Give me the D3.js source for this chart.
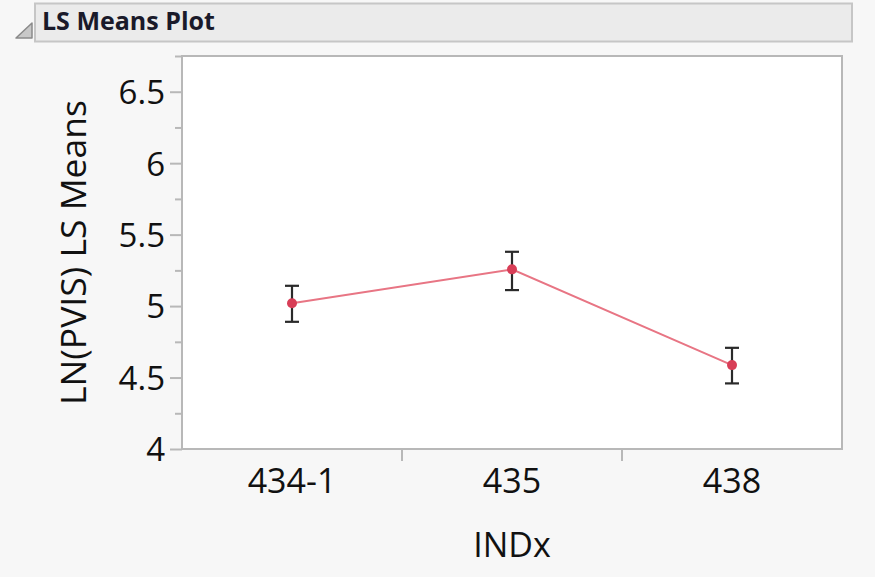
<!DOCTYPE html>
<html>
<head>
<meta charset="utf-8">
<script src="https://cdn.jsdelivr.net/npm/d3@7"></script>
<style>
  html, body { margin: 0; padding: 0; background: #f7f7f7; }
  svg { display: block; }
</style>
</head>
<body>
<svg id="chart" width="875" height="577"></svg>
<script>
// ---- data ----
const categories = ["434-1", "435", "438"];
const means = [5.02, 5.257, 4.587];
const upper = [5.142, 5.38, 4.708];
const lower = [4.89, 5.112, 4.459];
const yTicks = [4, 4.5, 5, 5.5, 6, 6.5];
const yMinorTicks = [4.25, 4.75, 5.25, 5.75, 6.25, 6.75];
const title = "LS Means Plot";
const yLabel = "LN(PVIS) LS Means";
const xLabel = "INDx";

(function () {
const svg = d3.select("#chart");
const W = 875, H = 577;
const font = "'Open Sans', 'Noto Sans', 'DejaVu Sans', sans-serif";

svg.append("rect").attr("width", W).attr("height", H).attr("fill", "#f7f7f7");

// header
svg.append("rect").attr("x", 35).attr("y", 3.5).attr("width", 817).attr("height", 38)
  .attr("fill", "#ebebeb").attr("stroke", "#c6c6c6").attr("stroke-width", 2);
svg.append("path").attr("d", "M16,38 L32,38 L32,23 Z")
  .attr("fill", "#c8c8c8").attr("stroke", "#8a8a8a").attr("stroke-width", 1.5).attr("stroke-linejoin", "round");
svg.append("text").attr("x", 42).attr("y", 30)
  .attr("font-family", font).attr("font-weight", "bold").attr("font-size", 25)
  .attr("fill", "#1a1a2a").text(title);

// plot area
const pLeft = 182, pRight = 842, pTop = 56, pBottom = 449;
const x = d3.scaleBand().domain(categories).range([pLeft, pRight]).padding(0);
const y = d3.scaleLinear().domain([4, 6.75]).range([pBottom, pTop]);

svg.append("rect").attr("x", pLeft).attr("y", pTop).attr("width", pRight - pLeft).attr("height", pBottom - pTop)
  .attr("fill", "#ffffff").attr("stroke", "#b8b8b8").attr("stroke-width", 2);

// y axis
const yAxis = d3.axisLeft(y).tickValues(yTicks).tickSize(12).tickPadding(5).tickFormat(d3.format("~g"));
const gy = svg.append("g").attr("transform", `translate(${pLeft},0)`).call(yAxis);
gy.select(".domain").remove();
gy.selectAll(".tick line").attr("stroke", "#b8b8b8").attr("stroke-width", 2);
gy.selectAll(".tick text").attr("font-family", font).attr("font-size", 33).attr("fill", "#111").attr("dy", "0.36em");

const yMinor = d3.axisLeft(y).tickValues(yMinorTicks).tickSize(7).tickFormat("");
const gym = svg.append("g").attr("transform", `translate(${pLeft},0)`).call(yMinor);
gym.select(".domain").remove();
gym.selectAll(".tick line").attr("stroke", "#b8b8b8").attr("stroke-width", 2);

// x axis: labels at band centers, ticks at band boundaries
const xAxis = d3.axisBottom(x).tickSize(0).tickPadding(20);
const gx = svg.append("g").attr("transform", `translate(0,${pBottom})`).call(xAxis);
gx.select(".domain").remove();
gx.selectAll(".tick text").attr("font-family", font).attr("font-size", 34).attr("fill", "#111").attr("dy", "0.71em");

const boundaries = categories.slice(1).map(c => x(c));
svg.append("g").selectAll("line").data(boundaries).join("line")
  .attr("x1", d => d).attr("x2", d => d).attr("y1", pBottom).attr("y2", pBottom + 12)
  .attr("stroke", "#b8b8b8").attr("stroke-width", 2);

// axis titles
svg.append("text").attr("x", x(categories[1]) + x.bandwidth() / 2).attr("y", 557)
  .attr("text-anchor", "middle").attr("font-family", font).attr("font-size", 34).attr("fill", "#111").text(xLabel);
svg.append("text").attr("transform", `translate(86,${(pTop + pBottom) / 2}) rotate(-90)`)
  .attr("text-anchor", "middle").attr("font-family", font).attr("font-size", 35.5).attr("fill", "#111").text(yLabel);

// data
const pts = categories.map((c, i) => ({ c, m: means[i], u: upper[i], l: lower[i] }));
const cx = d => x(d.c) + x.bandwidth() / 2;

svg.append("path").datum(pts)
  .attr("d", d3.line().x(cx).y(d => y(d.m)))
  .attr("fill", "none").attr("stroke", "#e87584").attr("stroke-width", 2);

const eb = svg.append("g").selectAll("g").data(pts).join("g").attr("stroke", "#2a2a2a").attr("stroke-width", 2.2);
eb.append("line").attr("x1", cx).attr("x2", cx).attr("y1", d => y(d.u)).attr("y2", d => y(d.l));
eb.append("line").attr("x1", d => cx(d) - 7).attr("x2", d => cx(d) + 7).attr("y1", d => y(d.u)).attr("y2", d => y(d.u));
eb.append("line").attr("x1", d => cx(d) - 7).attr("x2", d => cx(d) + 7).attr("y1", d => y(d.l)).attr("y2", d => y(d.l));

svg.append("g").selectAll("circle").data(pts).join("circle")
  .attr("cx", cx).attr("cy", d => y(d.m)).attr("r", 5).attr("fill", "#d83e57");
})();
</script>
</body>
</html>
